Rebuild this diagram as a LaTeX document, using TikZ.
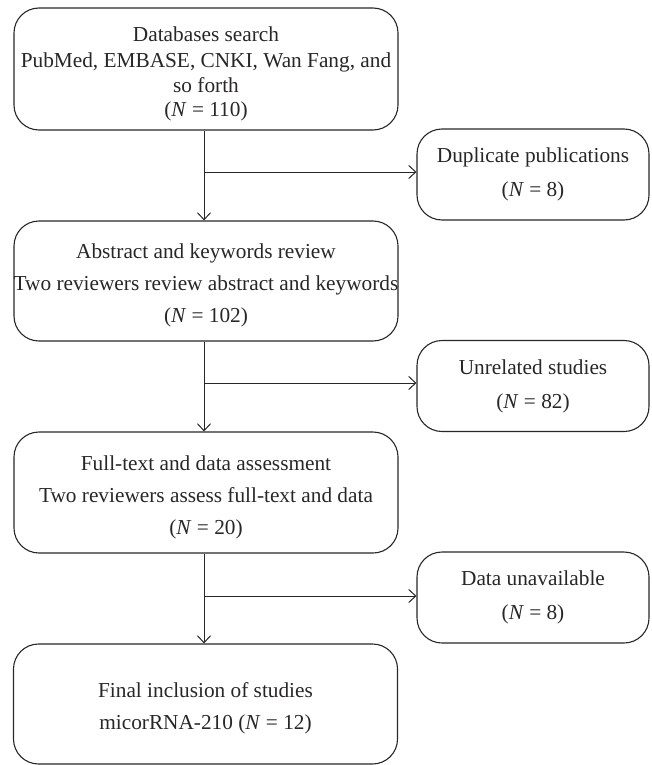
\documentclass[tikz,border=0pt]{standalone}
\usepackage{fontspec}
\setmainfont{Liberation Serif}
\usetikzlibrary{arrows.meta}
\definecolor{ink}{RGB}{40,38,38}
\newcommand{\dn}{\rule{0pt}{24pt}}
\begin{document}
\begin{tikzpicture}[x=1pt,y=-1pt,
  box/.style={draw=ink,line width=1.1pt,rounded corners=25pt,align=center,text=ink,
    font=\fontsize{21.3}{26}\selectfont,inner ysep=0pt,inner xsep=-6pt},
  mainbox/.style={box,minimum width=384pt},
  sidebox/.style={box,minimum width=232pt,minimum height=91pt},
  conn/.style={draw=ink,line width=1pt},
  arr/.style={conn,-{Straight Barb[length=7pt,width=13pt,line width=1pt]}}]
\useasboundingbox (0,0) rectangle (651,765);

\node[mainbox,minimum height=122pt] (db) at (206,69)
  {\dn Databases search\\[0pt] PubMed, EMBASE, CNKI, Wan Fang, and\\[-1pt] so forth\\[-2pt] (\textit{N} = 110)};
\node[mainbox,minimum height=120pt] (abs) at (206,281)
  {\dn Abstract and keywords review\\[6pt] Two reviewers review abstract and keywords\\[6pt] (\textit{N} = 102)};
\node[mainbox,minimum height=121pt] (full) at (206,492.5)
  {\dn Full-text and data assessment\\[6pt] Two reviewers assess full-text and data\\[6pt] (\textit{N} = 20)};
\node[mainbox,minimum height=120pt] (fin) at (205.5,704)
  {\dn Final inclusion of studies\\[6pt] micorRNA-210 (\textit{N} = 12)};

\node[sidebox] (dup) at (533,174.5) {Duplicate publications\\[8pt] (\textit{N} = 8)};
\node[sidebox] (unr) at (533,386) {Unrelated studies\\[8pt] (\textit{N} = 82)};
\node[sidebox] (dat) at (533,597.5) {Data unavailable\\[8pt] (\textit{N} = 8)};

\coordinate (j1) at (204,172);
\coordinate (j2) at (204,383);
\coordinate (j3) at (204,596);

\draw[arr] (db.south -| j1) -- (abs.north -| j1);
\draw[arr] (j1) -- (j1 -| dup.west);
\draw[arr] (abs.south -| j2) -- (full.north -| j2);
\draw[arr] (j2) -- (j2 -| unr.west);
\draw[arr] (full.south -| j3) -- (fin.north -| j3);
\draw[arr] (j3) -- (j3 -| dat.west);
\end{tikzpicture}
\end{document}
